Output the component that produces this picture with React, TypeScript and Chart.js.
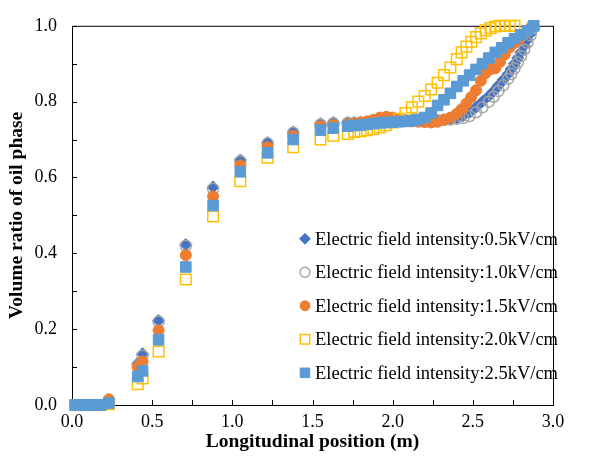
import React, { useEffect, useRef } from 'react';
import { Chart, registerables } from 'chart.js';
import { drawPoint } from 'chart.js/helpers';

Chart.register(...registerables);

const seriesLabels = [
  'Electric field intensity:0.5kV/cm',
  'Electric field intensity:1.0kV/cm',
  'Electric field intensity:1.5kV/cm',
  'Electric field intensity:2.0kV/cm',
  'Electric field intensity:2.5kV/cm',
];

const xTickValues = [0, 0.5, 1.0, 1.5, 2.0, 2.5, 3.0];
const yTickValues = [0, 0.2, 0.4, 0.6, 0.8, 1.0];

// shared sampling positions (upstream part)
const xSparse = [0.02, 0.04, 0.06, 0.08, 0.1, 0.12, 0.14, 0.16, 0.18, 0.23, 0.41, 0.44, 0.54, 0.71, 0.88, 1.05, 1.22, 1.38, 1.55, 1.63, 1.72];
const y05Sparse = [0, 0, 0, 0, 0, 0, 0, 0, 0, 0.008, 0.11, 0.135, 0.223, 0.423, 0.575, 0.646, 0.692, 0.72, 0.742, 0.745, 0.745];
const y10Sparse = [0, 0, 0, 0, 0, 0, 0, 0, 0, 0.008, 0.105, 0.13, 0.22, 0.42, 0.57, 0.643, 0.69, 0.718, 0.74, 0.743, 0.744];
const y15Sparse = [0, 0, 0, 0, 0, 0, 0, 0, 0, 0.015, 0.1, 0.115, 0.197, 0.395, 0.55, 0.632, 0.68, 0.71, 0.735, 0.738, 0.74];
const y20Sparse = [0, 0, 0, 0, 0, 0, 0, 0, 0, 0.002, 0.055, 0.07, 0.141, 0.331, 0.497, 0.59, 0.652, 0.68, 0.7, 0.71, 0.715];
const y25Sparse = [0, 0, 0, 0, 0, 0, 0, 0, 0, 0.005, 0.075, 0.09, 0.172, 0.364, 0.526, 0.615, 0.665, 0.7, 0.725, 0.73, 0.735];

// downstream (dense) part
const x05Dense = [1.76, 1.8, 1.84, 1.88, 1.92, 1.96, 2.0, 2.04, 2.08, 2.12, 2.16, 2.2, 2.24, 2.28, 2.32, 2.36, 2.4, 2.44, 2.48, 2.52, 2.56, 2.6, 2.63, 2.66, 2.69, 2.72, 2.74, 2.76, 2.78, 2.8, 2.82, 2.84, 2.86, 2.88];
const y05Dense = [0.745, 0.745, 0.746, 0.747, 0.748, 0.749, 0.75, 0.75, 0.75, 0.75, 0.75, 0.75, 0.75, 0.751, 0.752, 0.754, 0.757, 0.763, 0.772, 0.785, 0.8, 0.815, 0.828, 0.843, 0.858, 0.873, 0.886, 0.9, 0.915, 0.93, 0.947, 0.963, 0.98, 0.995];
const x10Dense = [1.76, 1.8, 1.84, 1.88, 1.92, 1.96, 2.0, 2.04, 2.08, 2.12, 2.16, 2.2, 2.24, 2.28, 2.32, 2.36, 2.4, 2.44, 2.48, 2.52, 2.56, 2.6, 2.63, 2.66, 2.69, 2.72, 2.74, 2.76, 2.78, 2.8, 2.82, 2.84, 2.86, 2.88];
const y10Dense = [0.744, 0.745, 0.745, 0.746, 0.747, 0.748, 0.749, 0.749, 0.75, 0.75, 0.75, 0.75, 0.75, 0.751, 0.752, 0.753, 0.755, 0.757, 0.762, 0.772, 0.785, 0.8, 0.813, 0.828, 0.843, 0.86, 0.873, 0.888, 0.903, 0.92, 0.937, 0.955, 0.975, 0.995];
const x15Dense = [1.76, 1.8, 1.84, 1.88, 1.92, 1.96, 2.0, 2.04, 2.08, 2.12, 2.16, 2.2, 2.24, 2.28, 2.32, 2.36, 2.4, 2.43, 2.46, 2.49, 2.52, 2.55, 2.58, 2.61, 2.64, 2.67, 2.7, 2.73, 2.76, 2.79, 2.82, 2.85, 2.87];
const y15Dense = [0.742, 0.745, 0.748, 0.752, 0.758, 0.76, 0.758, 0.752, 0.75, 0.748, 0.747, 0.746, 0.745, 0.747, 0.752, 0.758, 0.768, 0.78, 0.795, 0.812, 0.83, 0.855, 0.875, 0.885, 0.888, 0.905, 0.925, 0.943, 0.955, 0.965, 0.978, 0.99, 1.0];
const x20Dense = [1.76, 1.8, 1.84, 1.88, 1.92, 1.96, 2.0, 2.04, 2.08, 2.12, 2.16, 2.2, 2.24, 2.28, 2.32, 2.36, 2.4, 2.43, 2.46, 2.49, 2.52, 2.55, 2.58, 2.61, 2.64, 2.67, 2.7, 2.73, 2.76];
const y20Dense = [0.72, 0.722, 0.725, 0.728, 0.732, 0.738, 0.745, 0.755, 0.77, 0.785, 0.8, 0.815, 0.832, 0.85, 0.87, 0.89, 0.912, 0.93, 0.945, 0.958, 0.97, 0.98, 0.988, 0.994, 0.998, 1.0, 1.0, 1.0, 1.0];
const x25Dense = [1.76, 1.8, 1.84, 1.88, 1.92, 1.96, 2.0, 2.04, 2.08, 2.12, 2.16, 2.2, 2.24, 2.28, 2.32, 2.36, 2.4, 2.44, 2.48, 2.52, 2.56, 2.6, 2.64, 2.68, 2.72, 2.76, 2.8, 2.84, 2.88];
const y25Dense = [0.737, 0.738, 0.74, 0.742, 0.744, 0.745, 0.746, 0.747, 0.748, 0.75, 0.753, 0.758, 0.77, 0.79, 0.805, 0.822, 0.84, 0.855, 0.87, 0.885, 0.9, 0.915, 0.93, 0.942, 0.955, 0.966, 0.976, 0.987, 1.0];

const FONT = '"Liberation Serif", "Times New Roman", serif';

function zip(xs: number[], ys: number[]) {
  const n = Math.min(xs.length, ys.length);
  const out: { x: number; y: number }[] = [];
  for (let i = 0; i < n; i++) out.push({ x: xs[i], y: ys[i] });
  return out;
}

const styles = [
  { pointStyle: 'rectRot', radius: 6, fill: '#4472C4', border: '#4472C4', borderWidth: 1 },
  { pointStyle: 'circle', radius: 5.5, fill: 'rgba(0,0,0,0)', border: '#A5A5A5', borderWidth: 1.5 },
  { pointStyle: 'circle', radius: 5.5, fill: '#ED7D31', border: '#ED7D31', borderWidth: 1 },
  { pointStyle: 'rect', radius: 7.5, fill: 'rgba(0,0,0,0)', border: '#FFC000', borderWidth: 1.5 },
  { pointStyle: 'rect', radius: 7.5, fill: '#5B9BD5', border: '#5B9BD5', borderWidth: 1 },
];

const seriesData = [
  zip(xSparse, y05Sparse).concat(zip(x05Dense, y05Dense)),
  zip(xSparse, y10Sparse).concat(zip(x10Dense, y10Dense)),
  zip(xSparse, y15Sparse).concat(zip(x15Dense, y15Dense)),
  zip(xSparse, y20Sparse).concat(zip(x20Dense, y20Dense)),
  zip(xSparse, y25Sparse).concat(zip(x25Dense, y25Dense)),
];

const frameTicksPlugin = {
  id: 'frameTicks',
  beforeDatasetsDraw(chart: any) {
    const { ctx, chartArea } = chart;
    const xs = chart.scales.x;
    const ys = chart.scales.y;
    ctx.save();
    ctx.strokeStyle = '#000';
    ctx.lineWidth = 1;
    ctx.strokeRect(chartArea.left + 0.5, chartArea.top + 0.5, chartArea.right - chartArea.left, chartArea.bottom - chartArea.top);
    ctx.beginPath();
    for (let v = 0.25; v < 3; v += 0.25) {
      const px = Math.round(xs.getPixelForValue(v)) + 0.5;
      ctx.moveTo(px, chartArea.bottom);
      ctx.lineTo(px, chartArea.bottom - 5);
    }
    for (let v = 0.1; v < 1; v += 0.1) {
      const py = Math.round(ys.getPixelForValue(v)) + 0.5;
      ctx.moveTo(chartArea.left, py);
      ctx.lineTo(chartArea.left + 5, py);
    }
    ctx.stroke();
    ctx.restore();
  },
};

const legendPlugin = {
  id: 'insideLegend',
  afterDraw(chart: any) {
    const { ctx, chartArea } = chart;
    ctx.save();
    ctx.font = `18.5px ${FONT}`;
    ctx.textBaseline = 'middle';
    ctx.textAlign = 'left';
    seriesLabels.forEach((lbl, i) => {
      const st = styles[i];
      const x = chartArea.left + 233;
      const y = chartArea.top + 213 + i * 33.5;
      ctx.fillStyle = st.fill;
      ctx.strokeStyle = st.border;
      ctx.lineWidth = st.borderWidth;
      drawPoint(ctx, { pointStyle: st.pointStyle, radius: st.radius * 0.9, rotation: 0, borderWidth: st.borderWidth } as any, x, y);
      ctx.fillStyle = '#000';
      ctx.fillText(lbl, x + 10, y + 1);
    });
    ctx.restore();
  },
};

export default function App() {
  const ref = useRef<HTMLCanvasElement>(null);
  useEffect(() => {
    if (!ref.current) return;
    const chart = new Chart(ref.current, {
      type: 'scatter',
      data: {
        datasets: seriesData.map((d, i) => ({
          label: seriesLabels[i],
          data: d,
          showLine: false,
          clip: false as any,
          order: 4 - i,
          pointStyle: styles[i].pointStyle as any,
          pointRadius: styles[i].radius,
          pointHoverRadius: styles[i].radius,
          pointBackgroundColor: styles[i].fill,
          pointBorderColor: styles[i].border,
          pointBorderWidth: styles[i].borderWidth,
        })),
      },
      options: {
        animation: false,
        responsive: false,
        devicePixelRatio: 1,
        layout: { padding: { top: 15, right: 37, left: 0, bottom: 0 } },
        plugins: {
          legend: { display: false },
          tooltip: { enabled: false },
        },
        scales: {
          x: {
            type: 'linear',
            min: 0,
            max: 3,
            afterFit: (s: any) => { s.height = 65; },
            afterBuildTicks: (s: any) => { s.ticks = xTickValues.map((v) => ({ value: v })); },
            grid: { display: false, drawTicks: false },
            border: { display: false },
            ticks: {
              color: '#000',
              font: { family: FONT, size: 18 },
              padding: 6,
              maxRotation: 0,
              callback: (v: any) => Number(v).toFixed(1),
            },
            title: {
              display: true,
              text: 'Longitudinal position (m)',
              color: '#000',
              font: { family: FONT, size: 19.5, weight: 'bold', lineHeight: 1.2 },
              padding: { top: 0, bottom: 16 },
            },
          },
          y: {
            type: 'linear',
            min: 0,
            max: 1,
            afterFit: (s: any) => { s.width = 72; },
            afterBuildTicks: (s: any) => { s.ticks = yTickValues.map((v) => ({ value: v })); },
            grid: { display: false, drawTicks: false },
            border: { display: false },
            ticks: {
              color: '#000',
              font: { family: FONT, size: 18 },
              padding: 15,
              callback: (v: any) => Number(v).toFixed(1),
            },
            title: {
              display: true,
              text: 'Volume ratio of oil phase',
              color: '#000',
              font: { family: FONT, size: 19.5, weight: 'bold', lineHeight: 1.2 },
              padding: { top: 5, bottom: 0 },
            },
          },
        },
      },
      plugins: [frameTicksPlugin, legendPlugin],
    } as any);
    return () => chart.destroy();
  }, []);
  return (
    <div style={{ position: 'fixed', left: 0, top: 0, width: 590, height: 470, background: '#fff' }}>
      <canvas ref={ref} width={590} height={470} style={{ display: 'block' }} />
    </div>
  );
}
